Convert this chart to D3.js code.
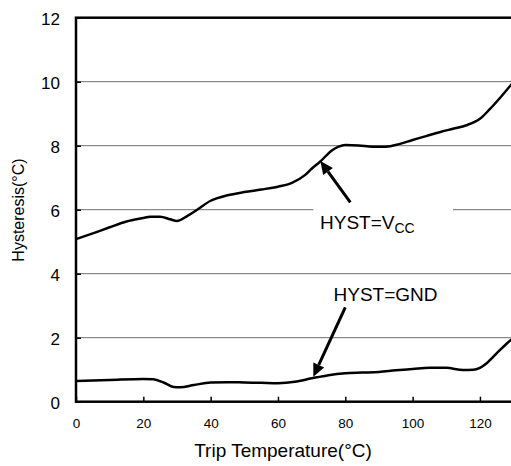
<!DOCTYPE html>
<html>
<head>
<meta charset="utf-8">
<script src="https://cdn.jsdelivr.net/npm/d3@7"></script>
<style>
  body { margin: 0; background: #fff; overflow: hidden; }
  text { font-family: "Liberation Sans", Arial, sans-serif; fill: #000; }
</style>
</head>
<body>
<div id="chart"></div>
<script>
// data
const xTicks = [0, 20, 40, 60, 80, 100, 120];
const yTicks = [0, 2, 4, 6, 8, 10, 12];

const vccTemp = [0, 5, 10, 15, 20, 22, 25, 28, 30, 33, 36, 40, 45, 50, 55, 60, 64, 68, 70, 72.5, 76, 78, 80, 84, 88, 92, 96, 100, 104, 108, 112, 116, 120, 123, 126, 130];
const vccHyst = [5.08, 5.26, 5.45, 5.63, 5.74, 5.78, 5.78, 5.7, 5.65, 5.8, 6.0, 6.28, 6.45, 6.55, 6.63, 6.72, 6.83, 7.08, 7.28, 7.5, 7.85, 7.97, 8.02, 8.01, 7.97, 7.97, 8.05, 8.18, 8.3, 8.42, 8.53, 8.64, 8.84, 9.15, 9.5, 10.0];

const gndTemp = [0, 10, 20, 23, 26, 29, 31, 35, 40, 45, 50, 55, 60, 65, 70, 75, 80, 85, 90, 95, 100, 105, 110, 115, 118, 120, 122, 124, 126, 128, 130];
const gndHyst = [0.65, 0.68, 0.71, 0.7, 0.6, 0.46, 0.45, 0.52, 0.6, 0.61, 0.6, 0.59, 0.58, 0.62, 0.73, 0.83, 0.89, 0.91, 0.93, 0.98, 1.02, 1.06, 1.06, 0.99, 1.0, 1.06, 1.2, 1.41, 1.62, 1.82, 2.0];

const margin = { top: 17.7, left: 76 };
const width = 437.6;
const height = 384;

const svg = d3.select("#chart")
  .append("svg")
  .attr("width", 511)
  .attr("height", 466);

const g = svg.append("g")
  .attr("transform", "translate(" + margin.left + "," + margin.top + ")");

const x = d3.scaleLinear().domain([0, 130]).range([0, width]);
const y = d3.scaleLinear().domain([0, 12]).range([height, 0]);

// grid lines
g.selectAll(".grid")
  .data(yTicks.filter(d => d > 0 && d < 12))
  .join("line")
  .attr("x1", 0)
  .attr("x2", width)
  .attr("y1", d => y(d))
  .attr("y2", d => y(d))
  .attr("stroke", "#6e6e6e")
  .attr("stroke-width", 1);

// y axis labels
const yAxis = g.append("g")
  .call(d3.axisLeft(y).tickValues(yTicks).tickSize(-5).tickPadding(16));
yAxis.select(".domain").remove();
yAxis.selectAll("line").attr("stroke", "#000").attr("stroke-width", 1.5);
yAxis.selectAll("text")
  .attr("font-size", 17)
  .attr("font-family", "Liberation Sans, Arial, sans-serif")
  .attr("dy", "0.4em");

// x axis labels
const xAxis = g.append("g")
  .attr("transform", "translate(0," + height + ")")
  .call(d3.axisBottom(x).tickValues(xTicks).tickSize(-5).tickPadding(17));
xAxis.select(".domain").remove();
xAxis.selectAll("line").attr("stroke", "#000").attr("stroke-width", 1.5);
xAxis.selectAll("text")
  .attr("font-size", 13.5)
  .attr("font-family", "Liberation Sans, Arial, sans-serif");

// frame
g.append("rect")
  .attr("x", 0)
  .attr("y", 0)
  .attr("width", width)
  .attr("height", height)
  .attr("fill", "none")
  .attr("stroke", "#000")
  .attr("stroke-width", 2.5);

const line = d3.line()
  .x(d => x(d[0]))
  .y(d => y(d[1]))
  .curve(d3.curveMonotoneX);

g.selectAll(".series")
  .data([d3.zip(vccTemp, vccHyst), d3.zip(gndTemp, gndHyst)])
  .join("path")
  .attr("fill", "none")
  .attr("stroke", "#000")
  .attr("stroke-width", 2.5)
  .attr("d", line);

// annotations
function arrow(x0, y0, x1, y1) {
  const px0 = x(x0), py0 = y(y0), px1 = x(x1), py1 = y(y1);
  const a = Math.atan2(py1 - py0, px1 - px0);
  const len = 13, half = 6;
  const bx = px1 - len * Math.cos(a), by = py1 - len * Math.sin(a);
  g.append("line")
    .attr("x1", px0).attr("y1", py0)
    .attr("x2", bx).attr("y2", by)
    .attr("stroke", "#000")
    .attr("stroke-width", 3);
  g.append("path")
    .attr("d", "M" + px1 + "," + py1 +
      "L" + (bx + half * Math.sin(a)) + "," + (by - half * Math.cos(a)) +
      "L" + (bx - half * Math.sin(a)) + "," + (by + half * Math.cos(a)) + "Z")
    .attr("fill", "#000");
}

// label box over the 6 grid line
g.append("rect")
  .attr("x", x(70.5))
  .attr("y", y(6.2))
  .attr("width", x(112) - x(70.5))
  .attr("height", y(5.4) - y(6.2))
  .attr("fill", "#fff");

const vccLabel = g.append("text")
  .attr("x", x(72.5))
  .attr("y", y(5.4))
  .attr("font-size", 19);
vccLabel.append("tspan").text("HYST=V");
vccLabel.append("tspan").attr("font-size", 14).attr("dy", 4).text("CC");

g.append("text")
  .attr("x", x(76.5))
  .attr("y", y(3.16))
  .attr("font-size", 19)
  .text("HYST=GND");

arrow(81.5, 6.23, 72.6, 7.52);
arrow(80, 2.95, 70.5, 0.78);

// axis titles
svg.append("text")
  .attr("x", 283)
  .attr("y", 457)
  .attr("text-anchor", "middle")
  .attr("font-size", 19)
  .text("Trip Temperature(°C)");

svg.append("text")
  .attr("transform", "translate(24,210) rotate(-90)")
  .attr("text-anchor", "middle")
  .attr("font-size", 16)
  .text("Hysteresis(°C)");
</script>
</body>
</html>
